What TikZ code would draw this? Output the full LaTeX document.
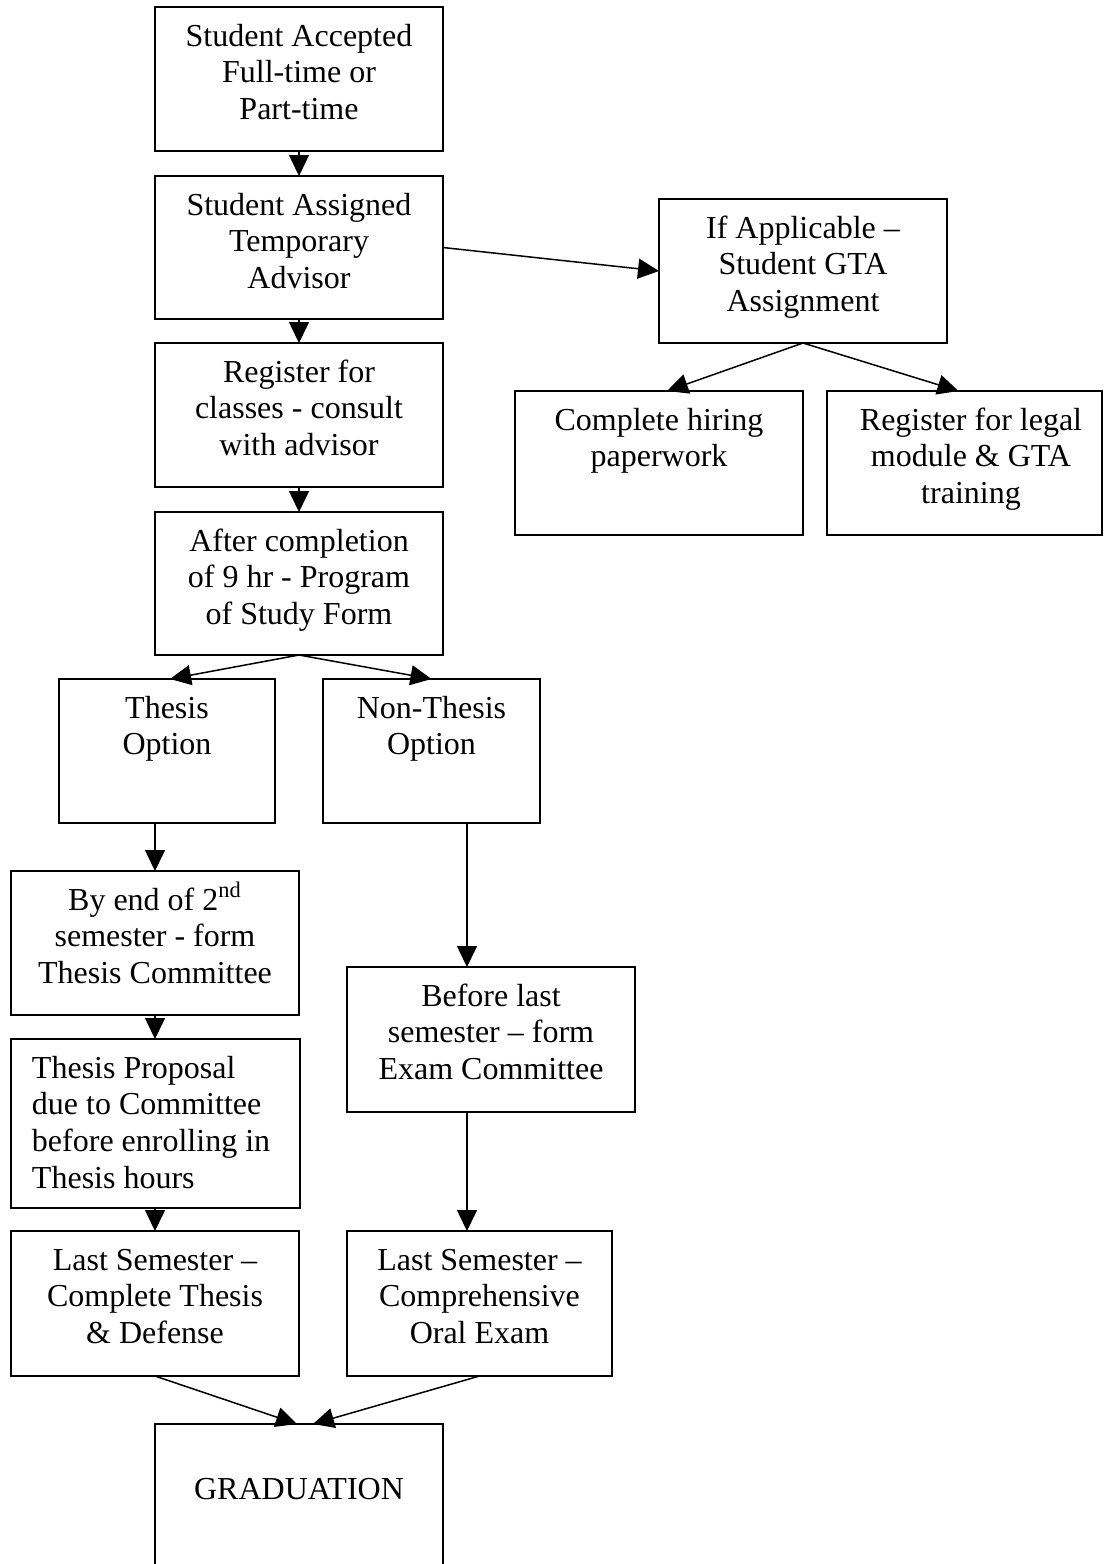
\documentclass[tikz,border=0pt]{standalone}
\usepackage{fontspec}
\setmainfont{Liberation Serif}
\usetikzlibrary{arrows.meta}
\newcommand{\firstln}{\rule{0pt}{15pt}}
\begin{document}
\begin{tikzpicture}[x=0.5pt,y=-0.5pt,
  box/.style={draw=black, line width=0.75pt, anchor=north west, inner sep=0pt, outer sep=0pt},
  txt/.style={anchor=north, inner sep=0pt, outer sep=0pt, align=center, font=\fontsize{16pt}{18.4pt}\selectfont},
  arr/.style={draw=black, line width=0.75pt, -{Triangle[length=10.5pt,width=10pt]}}]
\useasboundingbox (0,0) rectangle (1104,1564);
\fill[white] (0,0) rectangle (1104,1564);
\begin{scope}
\clip (0,0) rectangle (1104,1564);
% boxes
\node[box, minimum width=144pt, minimum height=72pt]   (b1)    at (155,7)    {};
\node[box, minimum width=144pt, minimum height=71.5pt] (b2)    at (155,176)  {};
\node[box, minimum width=144pt, minimum height=72pt]   (b3)    at (155,343)  {};
\node[box, minimum width=144pt, minimum height=71.5pt] (b4)    at (155,512)  {};
\node[box, minimum width=144pt, minimum height=72pt]   (gta)   at (659,199)  {};
\node[box, minimum width=144pt, minimum height=72pt]   (hire)  at (515,391)  {};
\node[box, minimum width=137.5pt, minimum height=72pt] (reg)   at (827,391)  {};
\node[box, minimum width=108pt, minimum height=72pt]   (thesis) at (59,679)  {};
\node[box, minimum width=108.5pt, minimum height=72pt] (nonth) at (323,679)  {};
\node[box, minimum width=144pt, minimum height=72pt]   (byend) at (11,871)   {};
\node[box, minimum width=144.5pt, minimum height=84.5pt] (prop) at (11,1039) {};
\node[box, minimum width=144pt, minimum height=72.5pt] (lastt) at (11,1231)  {};
\node[box, minimum width=144pt, minimum height=72.5pt] (bl)    at (347,967)  {};
\node[box, minimum width=132.5pt, minimum height=72.5pt] (lastc) at (347,1231) {};
\node[box, minimum width=144pt, minimum height=80pt]   (grad)  at (155,1424) {};
% texts
\node[txt] (t1) at ([yshift=-4.5pt]b1.north) {\firstln Student Accepted\\Full-time or\\Part-time};
\node[txt] (t2) at ([yshift=-4.5pt]b2.north) {\firstln Student Assigned\\Temporary\\Advisor};
\node[txt] (t3) at ([yshift=-4.5pt]b3.north) {\firstln Register for\\classes - consult\\with advisor};
\node[txt] (t4) at ([yshift=-4.5pt]b4.north) {\firstln After completion\\of 9 hr - Program\\of Study Form};
\node[txt] (t5) at ([yshift=-4.5pt]gta.north) {\firstln If Applicable –\\Student GTA\\Assignment};
\node[txt] (t6) at ([yshift=-4.5pt]hire.north) {\firstln Complete hiring\\paperwork};
\node[txt] (t7) at ([xshift=3.25pt,yshift=-4.5pt]reg.north) {\firstln Register for legal\\module \& GTA\\training};
\node[txt] (t8) at ([yshift=-4.5pt]thesis.north) {\firstln Thesis\\Option};
\node[txt] (t9) at ([yshift=-4.5pt]nonth.north) {\firstln Non-Thesis\\Option};
\node[txt] (t10) at ([yshift=-4.5pt]byend.north) {\firstln By end of 2\textsuperscript{nd}\\semester - form\\Thesis Committee};
\node[txt, anchor=north west, align=left] (t11) at ([xshift=10.5pt,yshift=-4.5pt]prop.north west) {\firstln Thesis Proposal\\due to Committee\\before enrolling in\\Thesis hours};
\node[txt] (t12) at ([yshift=-4.5pt]lastt.north) {\firstln Last Semester –\\Complete Thesis\\\& Defense};
\node[txt] (t13) at ([yshift=-4.5pt]bl.north) {\firstln Before last\\semester – form\\Exam Committee};
\node[txt] (t14) at ([yshift=-4.5pt]lastc.north) {\firstln Last Semester –\\Comprehensive\\Oral Exam};
\node[txt] (t15) at ([yshift=-22.9pt]grad.north) {\firstln GRADUATION};
% connectors
\draw[arr] (b1.south) -- (b2.north);
\draw[arr] (b2.east) -- (gta.west);
\draw[arr] (b2.south) -- (b3.north);
\draw[arr] (b3.south) -- (b4.north);
\draw[arr] (gta.south) -- ([xshift=4pt]hire.north);
\draw[arr] (gta.south) -- ([xshift=-3pt]reg.north);
\draw[arr] (b4.south) -- ([xshift=1.5pt]thesis.north);
\draw[arr] (b4.south) -- (nonth.north);
\draw[arr] (thesis.south -| byend.north) -- (byend.north);
\draw[arr] (byend.south) -- (byend.south |- prop.north);
\draw[arr] (prop.south -| lastt.north) -- (lastt.north);
\coordinate (ca) at ([xshift=-12pt]bl.north);
\coordinate (cb) at ([xshift=-12pt]bl.south);
\draw[arr] (nonth.south -| ca) -- (ca);
\draw[arr] (cb) -- (cb |- lastc.north);
\draw[arr] (lastt.south) -- ([xshift=-1pt]grad.north);
\draw[arr] (lastc.south) -- ([xshift=7pt]grad.north);
\end{scope}
\end{tikzpicture}
\end{document}
